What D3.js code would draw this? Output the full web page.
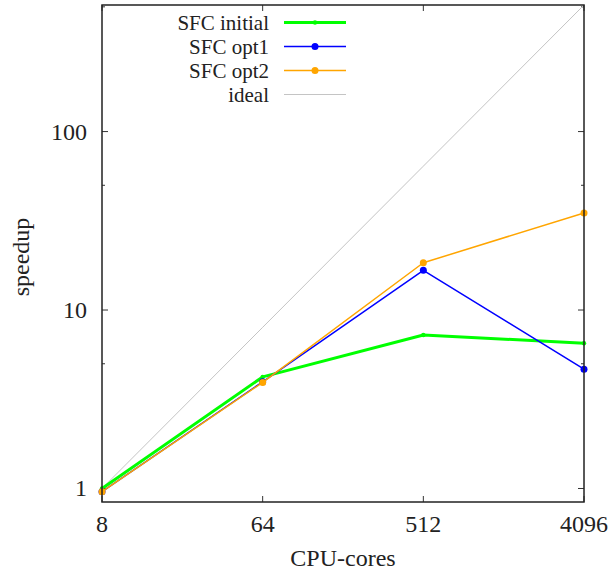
<!DOCTYPE html>
<html><head><meta charset="utf-8">
<script src="https://cdn.jsdelivr.net/npm/d3@7"></script>
<style>body{margin:0;background:#fff} svg text{font-family:"Liberation Serif",serif;}</style>
</head><body><svg id="c" width="608" height="573"></svg>
<script>
const cores = [8, 64, 512, 4096];
const sfcInitial = [1.0, 4.22, 7.25, 6.52];
const sfcOpt1 = [0.96, 3.96, 16.7, 4.66];
const sfcOpt2 = [0.96, 3.93, 18.4, 35.0];
const ideal = [1, 8, 64, 512];
const xTicks = [8, 64, 512, 4096];
const yTicks = [1, 10, 100];
const yMinor = [5, 50, 500];
const seriesNames = ["SFC initial", "SFC opt1", "SFC opt2", "ideal"];

const svg = d3.select("#c");
const L = 102, R = 584, T = 5, B = 502;
const x = d3.scaleLog().base(2).domain([8, 4096]).range([L, R]);
const y = d3.scaleLog().domain([0.84, 512]).range([B, T]);
const fs = 24;

function txt(xp, yp, s, anchor, size) {
  return svg.append("text").attr("x", xp).attr("y", yp).attr("text-anchor", anchor)
    .attr("font-size", size || fs).style("font-family", "Liberation Serif").attr("fill", "#222")
    .text(String(s));
}

// ticks
const g = svg.append("g").attr("stroke", "#333").attr("stroke-width", 1);
xTicks.forEach(v => {
  g.append("line").attr("x1", x(v)).attr("x2", x(v)).attr("y1", B).attr("y2", B - 6);
  g.append("line").attr("x1", x(v)).attr("x2", x(v)).attr("y1", T).attr("y2", T + 6);
});
yTicks.forEach(v => {
  g.append("line").attr("x1", L).attr("x2", L + 6).attr("y1", y(v)).attr("y2", y(v));
  g.append("line").attr("x1", R).attr("x2", R - 6).attr("y1", y(v)).attr("y2", y(v));
});
yMinor.forEach(v => {
  g.append("line").attr("x1", L).attr("x2", L + 3).attr("y1", y(v)).attr("y2", y(v));
  g.append("line").attr("x1", R).attr("x2", R - 3).attr("y1", y(v)).attr("y2", y(v));
});

// tick labels
xTicks.forEach(v => txt(x(v), B + 30, v, "middle"));
yTicks.forEach(v => txt(L - 15, y(v) + 8, v, "end"));

// axis titles
txt(343, 566, "CPU-cores", "middle");
txt(0, 0, "speedup", "middle").attr("x", null).attr("y", null)
  .attr("transform", "translate(29,257) rotate(-90)");

const line = d3.line().x(d => x(d[0])).y(d => y(d[1]));
const zip = arr => cores.map((c, i) => [c, arr[i]]);

// ideal
svg.append("path").datum(zip(ideal)).attr("d", line).attr("fill", "none")
  .attr("stroke", "#c4c4c4").attr("stroke-width", 1);

const series = [
  {name: seriesNames[0], vals: sfcInitial, color: "#00ff00", w: 3, r: 2.2},
  {name: seriesNames[1], vals: sfcOpt1, color: "#0000ff", w: 1.5, r: 3.5},
  {name: seriesNames[2], vals: sfcOpt2, color: "#ffa500", w: 1.5, r: 3.5}
];
series.forEach(s => {
  svg.append("path").datum(zip(s.vals)).attr("d", line).attr("fill", "none")
    .attr("stroke", s.color).attr("stroke-width", s.w).attr("stroke-linejoin", "round");
  svg.selectAll(null).data(zip(s.vals)).enter().append("circle")
    .attr("cx", d => x(d[0])).attr("cy", d => y(d[1])).attr("r", s.r).attr("fill", s.color);
});

// frame
svg.append("rect").attr("x", L).attr("y", T).attr("width", R - L).attr("height", B - T)
  .attr("fill", "none").attr("stroke", "#222").attr("stroke-width", 1.5);

// legend
const legY = [22.5, 46.5, 70.5, 94.5];
const legend = [
  {name: seriesNames[0], color: "#00ff00", w: 3, r: 2.2},
  {name: seriesNames[1], color: "#0000ff", w: 1.5, r: 3.5},
  {name: seriesNames[2], color: "#ffa500", w: 1.5, r: 3.5},
  {name: seriesNames[3], color: "#c4c4c4", w: 1, r: 0}
];
legend.forEach((s, i) => {
  txt(269, legY[i] + 7, s.name, "end", 21);
  svg.append("line").attr("x1", 284).attr("x2", 346).attr("y1", legY[i]).attr("y2", legY[i])
    .attr("stroke", s.color).attr("stroke-width", s.w);
  if (s.r) svg.append("circle").attr("cx", 315).attr("cy", legY[i]).attr("r", s.r).attr("fill", s.color);
});
</script></body></html>
